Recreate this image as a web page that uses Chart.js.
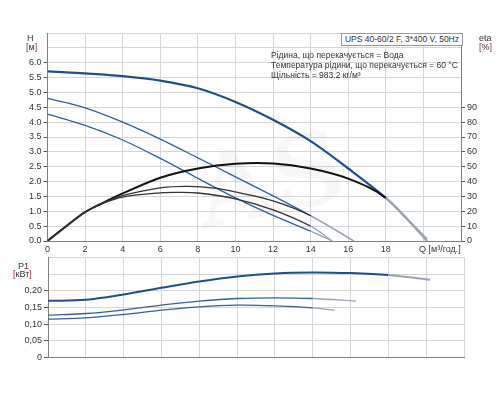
<!DOCTYPE html>
<html lang="uk">
<head>
<meta charset="UTF-8">
<title>UPS 40-60/2 F</title>
<script src="https://cdn.jsdelivr.net/npm/chart.js"></script>
<style>
  body { margin: 0; background: #fff; font-family: "Liberation Sans", Arial, sans-serif; color: #333; }
  #wrap { position: relative; width: 500px; height: 400px; }
  canvas { position: absolute; left: 0; }
  .t { position: absolute; font-size: 9px; white-space: nowrap; line-height: 10px; }
  .br { color: #a03030; }
  #box { position: absolute; left: 341px; top: 33px; width: 120px; height: 11px; border: 1px solid #999;
         font-size: 8.5px; line-height: 11px; text-align: center; background: #fff; }
  #wm { position: absolute; left: 195px; top: 120px; font: bold 100px "DejaVu Serif", serif;
        color: rgba(0,0,0,0.03); transform: rotate(-12deg); pointer-events: none; }
</style>
</head>
<body>
<div id="wrap">
  <canvas id="topChart" width="500" height="255" style="top:0"></canvas>
  <canvas id="powerChart" width="500" height="115" style="top:250px"></canvas>

  <div class="t" style="left:27px;top:33px">H</div>
  <div class="t" style="left:26px;top:42px"><span class="br">[</span>м<span class="br">]</span></div>
  <div class="t" style="left:479px;top:33px">eta</div>
  <div class="t" style="left:479px;top:42px"><span class="br">[</span>%<span class="br">]</span></div>
  <div class="t" style="left:18px;top:261px">P1</div>
  <div class="t" style="left:13px;top:269px"><span class="br">[</span>кВт<span class="br">]</span></div>
  <div class="t" style="left:419px;top:244px">Q [м³/год.]</div>

  <div id="box">UPS 40-60/2 F, 3*400 V, 50Hz</div>
  <div class="t" style="left:271px;top:50px;font-size:8.5px">Рідина, що перекачується = Вода</div>
  <div class="t" style="left:271px;top:60px;font-size:8.5px">Температура рідини, що перекачується = 60 °C</div>
  <div class="t" style="left:271px;top:70px;font-size:8.5px">Щільність = 983.2 кг/м³</div>
  <div id="wm">AS</div>
</div>

<script>
    // Q-H curves (м³/год -> м)
    const qHTop = [0, 2, 4, 6, 8, 10, 12, 14, 16, 18, 19, 20.2];
    const hTop  = [5.71, 5.64, 5.55, 5.40, 5.14, 4.68, 4.08, 3.36, 2.44, 1.45, 0.82, 0.05];
    const qHMid = [0, 2, 4, 6, 8, 10, 12, 14, 16.3];
    const hMid  = [4.80, 4.48, 4.00, 3.43, 2.80, 2.16, 1.52, 0.85, 0];
    const qHLow = [0, 2, 4, 6, 8, 10, 12, 14, 15.15];
    const hLow  = [4.27, 3.89, 3.40, 2.78, 2.11, 1.45, 0.86, 0.33, 0];

    // ККД (eta, %)
    const qEtaTop = [0, 1, 2, 3, 4, 6, 8, 10, 12, 14, 16, 18, 20.2];
    const etaTop  = [0, 10, 19.4, 26, 32, 42.6, 48.8, 52, 52.2, 48.8, 42, 29, 0];
    const qEtaMid = [0, 1, 2, 3, 4, 6, 7.5, 9, 10, 12, 14, 16.3];
    const etaMid  = [0, 10, 19.4, 25.8, 30.6, 35.8, 36.8, 35.4, 33, 27, 17, 0];
    const qEtaLow = [0, 1, 2, 3, 4, 6, 7, 8, 10, 12, 14, 15.15];
    const etaLow  = [0, 10, 19.4, 25.6, 29.6, 32.4, 32.7, 32.3, 28.4, 21, 10, 0];

    // P1 (кВт)
    const qPTop = [0, 2, 4, 6, 8, 10, 12, 14, 16, 18, 20.2];
    const pTop  = [0.170, 0.173, 0.189, 0.209, 0.228, 0.243, 0.252, 0.255, 0.253, 0.247, 0.233];
    const qPMid = [0, 2, 4, 6, 8, 10, 12, 14, 16.3];
    const pMid  = [0.127, 0.132, 0.143, 0.157, 0.169, 0.177, 0.179, 0.177, 0.169];
    const qPLow = [0, 2, 4, 6, 8, 10, 12, 14, 15.15];
    const pLow  = [0.115, 0.119, 0.129, 0.142, 0.152, 0.157, 0.155, 0.149, 0.142];

    const BLUE = '#1f4f8f';
    const BLUE_THIN = '#33609a';
    const BLACK = '#111';
    const FADE = '#98a4b4';
    const GRID = '#d6d6d6';
    const AXIS = '#808080';
    const FONT = { family: '"Liberation Sans", Arial, sans-serif', size: 9 };

    function pts(xs, ys) {
        return xs.map((x, i) => ({ x: x, y: ys[i] }));
    }

    function line(xs, ys, color, width, fadeFrom, axis) {
        return {
            data: pts(xs, ys),
            borderColor: color,
            borderWidth: width,
            pointRadius: 0,
            fill: false,
            tension: 0.35,
            yAxisID: axis || 'y',
            segment: {
                borderColor: ctx => ctx.p0.parsed.x >= fadeFrom ? FADE : color
            }
        };
    }

    const common = {
        responsive: false,
        animation: false,
        devicePixelRatio: 1,
        plugins: { legend: { display: false }, tooltip: { enabled: false } }
    };

    // Верхній графік: H та eta
    new Chart(document.getElementById('topChart'), {
        type: 'line',
        data: {
            datasets: [
                line(qEtaLow, etaLow, '#333', 1.3, 14, 'eta'),
                line(qEtaMid, etaMid, '#333', 1.3, 14, 'eta'),
                line(qEtaTop, etaTop, BLACK, 2, 18, 'eta'),
                line(qHLow, hLow, BLUE_THIN, 1.3, 14),
                line(qHMid, hMid, BLUE_THIN, 1.3, 14),
                line(qHTop, hTop, BLUE, 2.2, 18)
            ]
        },
        options: {
            ...common,
            layout: { padding: { top: 33, left: 0, right: 0, bottom: 0 } },
            scales: {
                x: {
                    type: 'linear', min: 0, max: 22,
                    ticks: { stepSize: 2, autoSkip: false, maxRotation: 0, padding: 3, font: FONT, color: '#333',
                             callback: v => v <= 18 ? v : '' },
                    grid: { color: GRID, drawTicks: false },
                    border: { color: AXIS },
                    afterFit: a => { a.height = 14; }
                },
                y: {
                    position: 'left', min: 0, max: 7,
                    ticks: { stepSize: 0.5, padding: 2, font: FONT, color: '#333',
                             callback: v => v <= 6 ? v.toFixed(1) : '' },
                    grid: { color: GRID, tickLength: 4,
                            tickColor: c => c.tick && c.tick.value <= 6 ? '#555' : 'rgba(0,0,0,0)' },
                    border: { color: AXIS },
                    afterFit: a => { a.width = 47.5; }
                },
                eta: {
                    position: 'right', min: 0, max: 140,
                    ticks: { stepSize: 10, padding: 2, font: FONT, color: '#333',
                             callback: v => v <= 90 ? v : '' },
                    grid: { drawOnChartArea: false, tickLength: 4,
                            tickColor: c => c.tick && c.tick.value <= 90 ? '#555' : 'rgba(0,0,0,0)' },
                    border: { color: AXIS },
                    afterFit: a => { a.width = 39; }
                }
            }
        }
    });

    // Нижній графік: P1
    new Chart(document.getElementById('powerChart'), {
        type: 'line',
        data: {
            datasets: [
                line(qPLow, pLow, BLUE_THIN, 1.3, 12.5),
                line(qPMid, pMid, BLUE_THIN, 1.3, 14),
                line(qPTop, pTop, BLUE, 2, 18)
            ]
        },
        options: {
            ...common,
            layout: { padding: { top: 7, left: 0, right: 36, bottom: 0 } },
            scales: {
                x: {
                    type: 'linear', min: 0, max: 22,
                    ticks: { display: false, stepSize: 2 },
                    grid: { color: GRID, drawTicks: false },
                    border: { color: AXIS },
                    afterFit: a => { a.height = 6; }
                },
                y: {
                    min: 0, max: 0.3,
                    ticks: { stepSize: 0.05, padding: 2, font: FONT, color: '#333',
                             callback: v => {
                                 const r = Math.round(v * 100) / 100;
                                 if (r === 0) return '0';
                                 return r <= 0.2 ? r.toFixed(2).replace('.', ',') : '';
                             } },
                    grid: { color: GRID, tickLength: 4,
                            tickColor: c => c.tick && c.tick.value <= 0.2001 ? '#555' : 'rgba(0,0,0,0)' },
                    border: { color: AXIS },
                    afterFit: a => { a.width = 48; }
                }
            }
        }
    });
</script>
</body>
</html>
